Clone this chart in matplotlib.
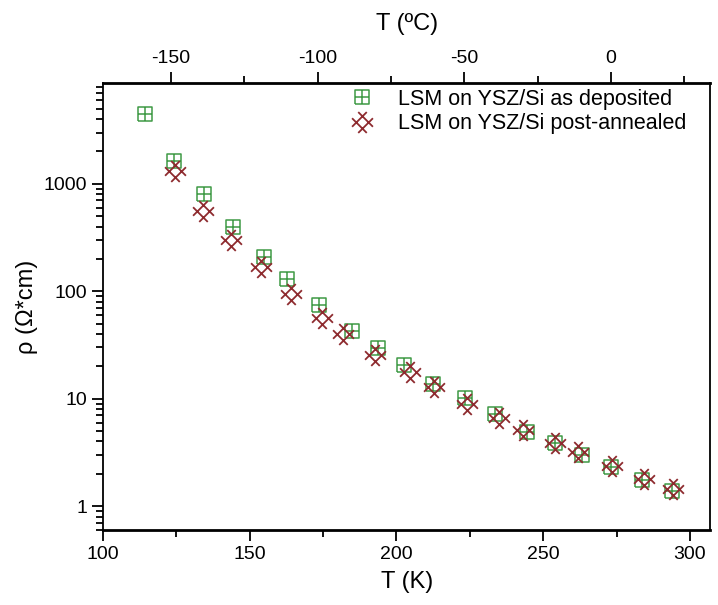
import numpy as np
import matplotlib.pyplot as plt
from matplotlib.path import Path
from matplotlib.ticker import LogLocator, FixedLocator, NullFormatter

plt.rcParams['font.family'] = ['Liberation Sans', 'DejaVu Sans']
plt.rcParams['axes.unicode_minus'] = False

# data
T_dep = [114.2, 124.3, 134.4, 144.4, 154.7, 162.8, 173.5, 185.0, 193.6, 202.7,
         212.5, 223.4, 233.7, 244.5, 253.9, 263.1, 273.2, 283.8, 293.8]
rho_dep = [4500, 1640, 804, 395, 208, 130, 75, 42.7, 29.5, 20.6,
           13.8, 10.1, 7.2, 4.9, 3.84, 2.99, 2.3, 1.75, 1.37]
T_ann = [124.5, 133.9, 143.7, 153.8, 164.2, 174.7, 181.8, 192.8, 204.5,
         212.8, 224.0, 234.8, 243.2, 254.0, 261.7, 273.4, 284.2, 294.2]
rho_ann = [1306, 553, 297, 170, 94.6, 56, 39.8, 25.5, 17.7,
           12.9, 9.0, 6.6, 5.1, 3.9, 3.2, 2.34, 1.8, 1.43]

lab_dep = "LSM on YSZ/Si as deposited"
lab_ann = "LSM on YSZ/Si post-annealed"

green = '#3f9a45'
red = '#8e2b2f'

# square with a plus inside
sq_verts = [(-1, -1), (1, -1), (1, 1), (-1, 1), (-1, -1),
            (0, -1), (0, 1), (-1, 0), (1, 0)]
sq_codes = [Path.MOVETO, Path.LINETO, Path.LINETO, Path.LINETO, Path.LINETO,
            Path.MOVETO, Path.LINETO, Path.MOVETO, Path.LINETO]
sq_marker = Path(sq_verts, sq_codes)

# hash rotated by 45 degrees
a = 0.42
hv = [(a, -1), (a, 1), (-a, -1), (-a, 1), (-1, a), (1, a), (-1, -a), (1, -a)]
c, s = np.cos(np.pi / 4), np.sin(np.pi / 4)
hv = [(x * c - y * s, x * s + y * c) for x, y in hv]
hc = [Path.MOVETO, Path.LINETO] * 4
hash_marker = Path(hv, hc)

fig = plt.figure(figsize=(7.18, 6.05), dpi=100)
ax = fig.add_axes([0.1435, 0.124, 0.846, 0.739])

ax.plot(T_dep, rho_dep, linestyle='none', marker=sq_marker, markersize=9.5,
        markerfacecolor='none', markeredgecolor=green, markeredgewidth=1.1, label=lab_dep)
ax.plot(T_ann, rho_ann, linestyle='none', marker=hash_marker, markersize=15,
        markerfacecolor='none', markeredgecolor=red, markeredgewidth=1.3, label=lab_ann)

ax.set_yscale('log')
ax.set_xlim(100, 307)
ax.set_ylim(0.6, 8700)
ax.set_xticks([100, 150, 200, 250, 300])
ax.xaxis.set_minor_locator(FixedLocator([125, 175, 225, 275]))
ax.set_yticks([1, 10, 100, 1000])
ax.set_yticklabels(['1', '10', '100', '1000'])
ax.yaxis.set_minor_locator(LogLocator(base=10, subs=np.arange(2, 10)))
ax.yaxis.set_minor_formatter(NullFormatter())

ax.tick_params(which='both', direction='out', top=False, right=False, width=1.3,
               labelsize=14, colors='black')
ax.tick_params(which='major', length=8)
ax.tick_params(which='minor', length=5)
for sp in ax.spines.values():
    sp.set_linewidth(1.3)
ax.spines['bottom'].set_linewidth(2)
ax.spines['top'].set_linewidth(2)

ax.set_xlabel('T (K)', fontsize=17, labelpad=6)
ax.set_ylabel('ρ (Ω*cm)', fontsize=17, labelpad=4)

top = ax.secondary_xaxis('top', functions=(lambda k: k - 273.15, lambda t: t + 273.15))
top.set_xticks([-150, -100, -50, 0])
top.xaxis.set_minor_locator(FixedLocator([-125, -75, -25, 25]))
top.tick_params(which='both', direction='out', width=1.3, labelsize=14)
top.tick_params(which='major', length=8)
top.tick_params(which='minor', length=5)
top.set_xlabel('T (ºC)', fontsize=17, labelpad=14)

ax.legend(loc='upper right', bbox_to_anchor=(0.993, 1.03), frameon=False, fontsize=15.5,
          handlelength=1.0, handletextpad=1.2, labelspacing=0.15)

fig.savefig('out.png', dpi=100)
